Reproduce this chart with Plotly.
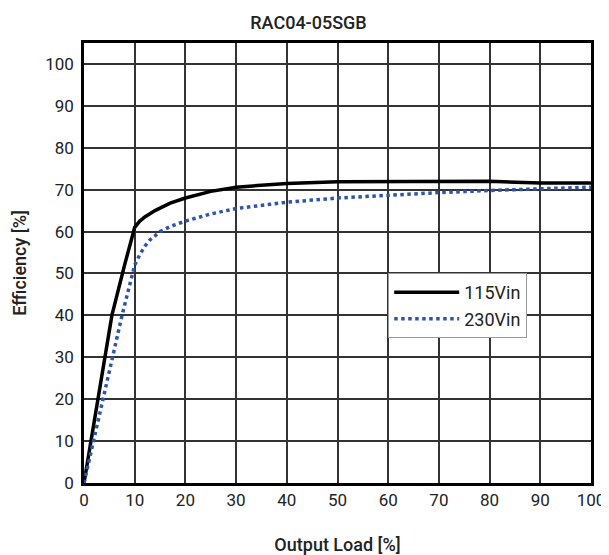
import plotly.graph_objects as go

load_115 = [0, 2, 5.5, 8, 10, 11, 12, 14, 17, 20, 25, 30, 35, 40, 50, 60, 70, 80, 90, 100]
eff_115 = [0, 14.5, 40, 52, 61, 62.5, 63.5, 65, 66.8, 68, 69.6, 70.6, 71.1, 71.5, 71.9, 72, 72, 72, 71.6, 71.6]

load_230 = [0, 2, 4, 7.5, 10, 11, 12, 13, 15, 17, 20, 25, 30, 40, 50, 60, 70, 80, 90, 100]
eff_230 = [0, 10.5, 21, 40, 52, 54.5, 56.5, 58, 60, 61.2, 62.5, 64.2, 65.5, 67, 68, 68.7, 69.3, 69.8, 70.2, 70.6]

x_ticks = list(range(0, 101, 10))
y_ticks = list(range(0, 101, 10))

font = "Roboto"

fig = go.Figure()
fig.add_trace(go.Scatter(x=load_115, y=eff_115, mode="lines", name="115Vin",
                         line=dict(color="black", width=3.5)))
fig.add_trace(go.Scatter(x=load_230, y=eff_230, mode="lines", name="230Vin",
                         line=dict(color="#2d55a8", width=3.5, dash="dot")))

# page body has an 8px default margin, so the figure is sized 8px smaller
fig.update_layout(
    width=601, height=547,
    margin=dict(l=76, r=18, t=35, b=72),
    paper_bgcolor="white", plot_bgcolor="white",
    title=dict(text="RAC04-05SGB", x=0.5, xanchor="center", y=0.974, yanchor="middle",
               font=dict(family=font, size=18, color="#222", weight=500)),
    font=dict(family=font, size=17, color="#222"),
    legend=dict(x=0.6, y=0.477, xanchor="left", yanchor="top",
                bgcolor="white", bordercolor="#999", borderwidth=1,
                font=dict(family=font, size=18, color="#222"),
                itemwidth=65, entrywidth=150, tracegroupgap=0),
    xaxis=dict(range=[0, 100], tickvals=x_ticks, ticktext=[str(v) for v in x_ticks],
               showgrid=True, gridcolor="#333", gridwidth=1.5,
               showline=True, linecolor="black", linewidth=2.5, mirror=True,
               ticks="", zeroline=False, automargin=False,
               title=dict(text="Output Load [%]", standoff=32,
                          font=dict(family=font, size=18, weight=500))),
    yaxis=dict(range=[0, 105], tickvals=y_ticks, ticktext=[str(v) for v in y_ticks],
               showgrid=True, gridcolor="#333", gridwidth=1.5,
               showline=True, linecolor="black", linewidth=2.5, mirror=True,
               ticks="", zeroline=False, ticklabelstandoff=4, automargin=False,
               title=dict(text="Efficiency [%]", standoff=14,
                          font=dict(family=font, size=18, weight=500))),
)

fig.write_html("out.html")
